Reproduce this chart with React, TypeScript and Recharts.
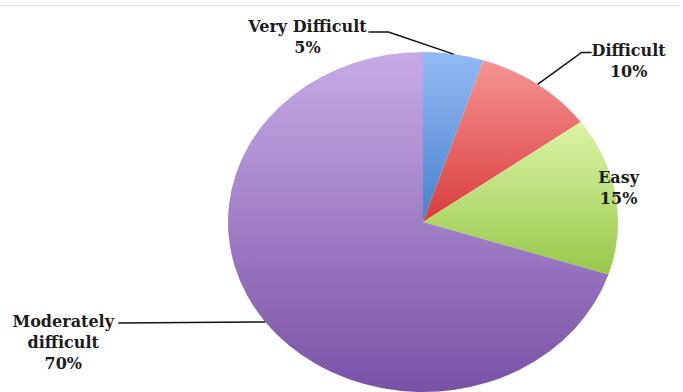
import { PieChart, Pie, Cell } from 'recharts'

// chart data
const categories = ['Very Difficult', 'Difficult', 'Easy', 'Moderately difficult']
const shares = [5, 10, 15, 70]
const labelLines = [['Very Difficult'], ['Difficult'], ['Easy'], ['Moderately', 'difficult']]

const data = categories.map((name, i) => ({ name, value: shares[i] }))

// light top -> dark bottom, one per slice
const gradients = [
  ['#93bbf5', '#4a80cc'],
  ['#f79494', '#d83c3c'],
  ['#dcf4a6', '#98c84a'],
  ['#c7abe6', '#7952a6'],
]

// label placement relative to the slice's edge point (text centre, leader elbow, leader end)
const labelLayout = [
  { tx: -146, ty: -28, elbow: [-65, -22], end: [-85, -22] },
  { tx: 91, ty: -34, elbow: [44, -32], end: [54, -32] },
  { tx: 3, ty: -18, elbow: null, end: null },
  { tx: -202, ty: 0, elbow: null, end: [-147, 1] },
]

const W = 683
const H = 392
const CX = 423
const CY = 222
const R = 195
const SQUASH = 170 / 195
const RAD = Math.PI / 180
const LINE_H = 21

const edgePoint = (cx: number, cy: number, r: number, angle: number) => [
  cx + r * Math.cos(-angle * RAD),
  cy + r * SQUASH * Math.sin(-angle * RAD),
]

// the pie in the picture is an ellipse, so draw squashed sectors
function EllipseSector(props: any) {
  const { cx, cy, outerRadius, startAngle, endAngle, fill } = props
  const [x1, y1] = edgePoint(cx, cy, outerRadius, startAngle)
  const [x2, y2] = edgePoint(cx, cy, outerRadius, endAngle)
  const large = Math.abs(endAngle - startAngle) > 180 ? 1 : 0
  const rx = outerRadius
  const ry = outerRadius * SQUASH
  return (
    <path
      d={`M${cx},${cy} L${x1},${y1} A${rx},${ry} 0 ${large} 1 ${x2},${y2} Z`}
      fill={fill}
      stroke="none"
    />
  )
}

function renderLabel(props: any) {
  const { cx, cy, midAngle, outerRadius, index, value } = props
  const [ax, ay] = edgePoint(cx, cy, outerRadius, midAngle)
  const lay = labelLayout[index]
  const lines = [...labelLines[index], `${value}%`]
  const pts: number[][] = [[ax, ay]]
  if (lay.elbow) pts.push([ax + lay.elbow[0], ay + lay.elbow[1]])
  if (lay.end) pts.push([ax + lay.end[0], ay + lay.end[1]])
  return (
    <g key={`lbl-${index}`}>
      {pts.length > 1 && (
        <polyline
          points={pts.map((p) => p.join(',')).join(' ')}
          fill="none"
          stroke="#111"
          strokeWidth={1.5}
        />
      )}
      {lines.map((t, j) => (
        <text
          key={j}
          x={ax + lay.tx}
          y={ay + lay.ty + j * LINE_H}
          textAnchor="middle"
          dominantBaseline="central"
          fill="#1c1c1c"
          fontFamily="'DejaVu Serif', serif"
          fontWeight="bold"
          fontSize={16}
        >
          {t}
        </text>
      ))}
    </g>
  )
}

export default function App() {
  return (
    <div style={{ position: 'absolute', left: 0, top: 0, width: W, height: H, background: '#fff' }}>
      <div style={{ position: 'absolute', left: 0, top: 5, width: 680, height: 1, background: '#e2e2e2' }} />
      <PieChart width={W} height={H} margin={{ top: 0, right: 0, bottom: 0, left: 0 }}>
        <defs>
          {gradients.map(([a, b], i) => (
            <linearGradient key={i} id={`grad-${i}`} x1="0" y1="0" x2="0" y2="1">
              <stop offset="0%" stopColor={a} />
              <stop offset="100%" stopColor={b} />
            </linearGradient>
          ))}
        </defs>
        <Pie
          data={data}
          dataKey="value"
          nameKey="name"
          cx={CX}
          cy={CY}
          outerRadius={R}
          startAngle={90}
          endAngle={-270}
          stroke="none"
          shape={EllipseSector}
          activeShape={EllipseSector}
          label={renderLabel}
          labelLine={false}
          isAnimationActive={false}
        >
          {data.map((_, i) => (
            <Cell key={`cell-${i}`} fill={`url(#grad-${i})`} />
          ))}
        </Pie>
      </PieChart>
    </div>
  )
}
